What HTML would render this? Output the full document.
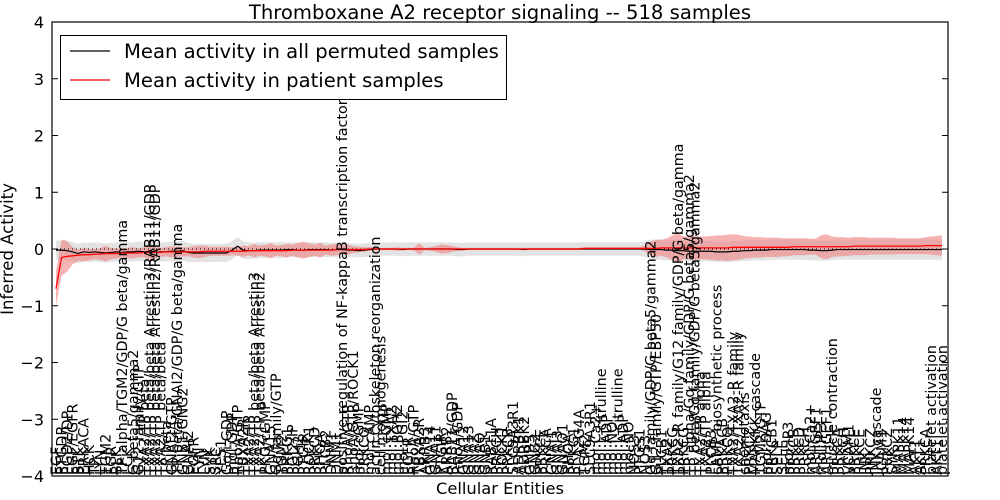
<!DOCTYPE html>
<html><head><meta charset="utf-8"><style>
html,body{margin:0;padding:0;background:#fff;}
svg{display:block;font-family:"DejaVu Sans","Liberation Sans",sans-serif;}
</style></head><body>
<svg id="chart" width="1000" height="500" viewBox="0 0 1000 500" xmlns="http://www.w3.org/2000/svg">
<rect x="0" y="0" width="1000" height="500" fill="#fff"/>
<text x="500" y="19" text-anchor="middle" font-size="19.6">Thromboxane A2 receptor signaling -- 518 samples</text>
<text transform="translate(13,249) rotate(-90)" text-anchor="middle" font-size="16.5">Inferred Activity</text>
<text x="500" y="494" text-anchor="middle" font-size="16.3">Cellular Entities</text>
<g id="plot"></g>
</svg>
<script>
const categories=["EGF","PTGDR","PGD2/DP","EGF/EGFR","BTK","PRKACA","HCK","TP","LYN","TGM2",
"FGR","BLK","TP alpha/TGM2/GDP/G beta/gamma","LCK","G beta5/gamma2","G12 family/GTP","TXA2/TP beta","TXA2/TP beta/beta Arrestin3/RAB11/GDP","TXA2/TP beta/beta Arrestin2/RAB11/GDP","TXA2/TP beta/beta",
"TP beta","GNAI2/GTP","TP beta/GNAI2/GDP/G beta/gamma","GNB1/GNG2","GNAI2","EGFR","FYN","LYN","SYK","SRC",
"YES1","Gq/i:GDP","mol:GDP","RhoA/GTP","TBXA2R","TXA2/TP","TXA2/TP beta/beta Arrestin3","TXA2/TP beta/beta Arrestin2","PKG/cGMP","GNA15",
"Gq family/GTP","TGM2","PRKG1","PGI2/IP","PGH2","PTGIR","ROCK1","PRKCD","RHOA","PLCB2",
"DNM1","DNM1","positive regulation of NF-kappaB transcription factor activity","RhoA/GTP","RhoA/GTP/ROCK1","mol:cGMP","PRKCQ","mol:cAMP","actin cytoskeleton reorganization","cell morphogenesis",
"mol:cGMP","mol:TXA2","mol:PGH2","mol:PGI2","EGFR","RhoA/GTP","TBXA2R","ARRB3","GNA14","GNA11",
"PTGIR","ARRB2","RAB11/GDP","RhoA/GDP","GNA12","GNA13","GNAZ","GNAQ","GNB1","RAB11A",
"PRKCH","ROCK1","PRKCB","SLC9A3R1","ADRBK1","ADRBK2","GNB5","GNG2","PRKCE","PRKCA",
"GNAI1","GNAI3","GNAO1","RHOA","PRKG1","PLA2G4A","TGM2","SLC9A3R1","mol:Ca2+","mol:L-citrulline",
"mol:ADP","mol:NO","mol:L-citrulline","mol:ADP","mol:NO","NOS3","PTGS1","NOS3","Gq family/GDP/G beta5/gamma2","G12 family/GTP/EBP50",
"PLCB1","TXA2","PRKCG","TXA2-R family/G12 family/GDP/G beta/gamma","PRKCG","TP alpha/Gq family/GDP/G beta5/gamma2","TP beta/Gq family/GDP/G beta5/gamma2","TXA2/TP alpha","TXA2/TP alpha","PLCB3",
"cAMP biosynthetic process","PRKACB","PRKCQ","TXA2/TXA2-R family","TXA2/TXA2-R family","chemotaxis","PRKCZ","MAPKKK cascade","TGM2/GTP","mol:DAG",
"PRKCB1","SELP","SELE","mol:IP3","PRKCB","PRKCD","PRKCH","mol:Ca2+","ARHGEF1","mol:IP3",
"ARHGEF1","muscle contraction","PRKCA","PRKCH","VCAM1","PRKCE","PRKCE","JNK","PRKCZ","JNK cascade",
"ICAM1","PRKCZ","SYK","MAPK11","MAPK14","MAPK14","AKT1","AKT1","PRKCA","platelet activation",
"AKT1","platelet activation"];
const yTicks=[4,3,2,1,0,-1,-2,-3,-4];
const yTickLabels=["4","3","2","1","0","\u22121","\u22122","\u22123","\u22124"];
const permMean=[-0.02,-0.02,-0.03,-0.05,-0.08,-0.05,-0.06,-0.05,-0.06,-0.07,
-0.06,-0.05,-0.06,-0.05,-0.05,-0.04,-0.05,-0.05,-0.06,-0.05,
-0.05,-0.04,-0.04,-0.03,-0.06,-0.07,-0.07,-0.07,-0.07,-0.07,
-0.07,-0.07,-0.02,0.05,-0.02,-0.03,-0.03,-0.02,-0.02,-0.02,
-0.02,-0.02,-0.01,-0.01,-0.02,-0.02,-0.01,-0.01,-0.01,-0.01,
-0.02,-0.01,-0.01,-0.02,-0.02,-0.03,-0.02,-0.01,0,0,
0,0,0,-0.01,0,0,0,0,0,0,
0,0,0,-0.01,-0.01,0,0,0,0,0,
0,0,0,0,0,-0.01,0,0,0,0,
0,0,0,0,0,0,0,0,0,0,
0,0,0,0,0,0,0,0,-0.01,-0.01,
-0.01,-0.02,-0.02,-0.03,-0.03,-0.04,-0.04,-0.04,-0.04,-0.04,
-0.05,-0.05,-0.05,-0.04,-0.04,-0.03,-0.03,-0.02,-0.02,-0.02,
-0.01,-0.01,-0.01,-0.01,-0.01,-0.01,-0.01,-0.02,-0.02,-0.03,
-0.03,-0.02,-0.01,-0.01,-0.01,-0.01,-0.01,-0.01,-0.01,-0.01,
-0.01,-0.01,-0.01,-0.01,-0.01,-0.01,-0.01,-0.01,-0.01,-0.01,
-0.01,-0.01];
const permSd=[0.17,0.17,0.17,0.17,0.17,0.17,0.17,0.17,0.17,0.17,
0.17,0.17,0.17,0.17,0.17,0.17,0.17,0.17,0.17,0.17,
0.17,0.17,0.17,0.17,0.17,0.16,0.16,0.16,0.16,0.16,
0.16,0.16,0.16,0.16,0.15,0.15,0.14,0.14,0.14,0.14,
0.14,0.14,0.13,0.13,0.13,0.13,0.13,0.13,0.13,0.13,
0.13,0.13,0.13,0.12,0.12,0.12,0.12,0.12,0.12,0.12,
0.12,0.12,0.12,0.12,0.12,0.12,0.12,0.12,0.12,0.12,
0.12,0.12,0.12,0.12,0.12,0.12,0.12,0.12,0.12,0.12,
0.12,0.12,0.12,0.12,0.12,0.12,0.12,0.12,0.12,0.12,
0.12,0.12,0.12,0.12,0.12,0.12,0.12,0.12,0.12,0.12,
0.12,0.12,0.12,0.12,0.12,0.12,0.12,0.14,0.17,0.18,
0.18,0.18,0.18,0.18,0.18,0.18,0.18,0.18,0.18,0.18,
0.18,0.18,0.18,0.18,0.18,0.18,0.18,0.18,0.18,0.18,
0.18,0.18,0.18,0.18,0.18,0.18,0.18,0.18,0.18,0.18,
0.18,0.18,0.18,0.18,0.18,0.18,0.18,0.18,0.18,0.18,
0.18,0.18,0.18,0.18,0.18,0.18,0.18,0.18,0.18,0.18,
0.18,0.18];
const patMean=[-0.7,-0.15,-0.13,-0.12,-0.11,-0.1,-0.1,-0.09,-0.09,-0.08,
-0.08,-0.08,-0.07,-0.07,-0.07,-0.07,-0.06,-0.06,-0.06,-0.06,
-0.05,-0.05,-0.05,-0.05,-0.05,-0.05,-0.05,-0.04,-0.04,-0.04,
-0.04,-0.04,-0.04,-0.04,-0.04,-0.03,-0.03,-0.03,-0.03,-0.03,
-0.03,-0.03,-0.03,-0.02,-0.02,-0.02,-0.02,-0.02,-0.02,-0.02,
-0.02,-0.01,-0.01,-0.01,-0.01,-0.01,-0.01,0,0,0,
0,0,0,0,0,0,0,0,0,0,
0,0,0,0,0,0,0,0,0,0,
0,0,0,0,0,0,0,0,0,0,
0,0,0,0,0,0,0.01,0.01,0.01,0.01,
0.01,0.01,0.01,0.01,0.01,0.01,0.01,0.01,0.01,0.01,
0.02,0.02,0.02,0.02,0.02,0.02,0.02,0.02,0.02,0.02,
0.02,0.02,0.02,0.03,0.03,0.03,0.03,0.03,0.03,0.03,
0.03,0.03,0.03,0.03,0.04,0.04,0.04,0.04,0.04,0.04,
0.04,0.04,0.04,0.04,0.04,0.05,0.05,0.05,0.05,0.05,
0.05,0.05,0.05,0.05,0.05,0.05,0.05,0.05,0.06,0.06,
0.06,0.06];
const patSd=[0.3,0.32,0.27,0.15,0.1,0.12,0.1,0.09,0.1,0.14,
0.1,0.09,0.08,0.09,0.1,0.08,0.09,0.13,0.1,0.08,
0.08,0.1,0.09,0.08,0.08,0.1,0.11,0.1,0.08,0.08,
0.08,0.08,0.07,0.08,0.1,0.08,0.12,0.09,0.1,0.13,
0.09,0.1,0.12,0.1,0.13,0.15,0.12,0.1,0.13,0.08,
0.1,0.1,0.08,0.09,0.06,0.05,0.04,0.03,0.03,0.02,
0.02,0.02,0.03,0.02,0.02,0.02,0.1,0.02,0.03,0.05,
0.08,0.07,0.05,0.03,0.02,0.02,0.02,0.02,0.02,0.02,
0.02,0.02,0.02,0.02,0.02,0.02,0.02,0.02,0.02,0.02,
0.02,0.02,0.02,0.02,0.02,0.02,0.02,0.02,0.02,0.02,
0.02,0.02,0.02,0.02,0.02,0.02,0.02,0.05,0.12,0.15,
0.14,0.17,0.22,0.26,0.2,0.2,0.21,0.2,0.2,0.21,
0.22,0.22,0.23,0.23,0.22,0.2,0.19,0.18,0.18,0.17,
0.17,0.17,0.16,0.16,0.15,0.15,0.15,0.14,0.14,0.2,
0.22,0.18,0.17,0.17,0.16,0.16,0.16,0.16,0.15,0.15,
0.15,0.15,0.15,0.14,0.14,0.14,0.14,0.14,0.15,0.16,
0.17,0.18];
const legendLabels=["Mean activity in all permuted samples","Mean activity in patient samples"];

const NS="http://www.w3.org/2000/svg";
const L=52,R=948,T=22,B=476,VMIN=-4,VMAX=4;
const n=categories.length;
function xScale(i){return 56+i*(886/(n-1));}
function yScale(v){return B-(v-VMIN)/(VMAX-VMIN)*(B-T);}
const g=document.getElementById('plot');
function mk(tag,attrs,parent){const e=document.createElementNS(NS,tag);for(const k in attrs)e.setAttribute(k,attrs[k]);(parent||g).appendChild(e);return e;}
function band(mean,sd){let up=[],dn=[];for(let i=0;i<n;i++){up.push(xScale(i).toFixed(2)+','+yScale(mean[i]+sd[i]).toFixed(2));dn.unshift(xScale(i).toFixed(2)+','+yScale(mean[i]-sd[i]).toFixed(2));}return up.concat(dn).join(' ');}
function line(mean){let p=[];for(let i=0;i<n;i++)p.push(xScale(i).toFixed(2)+','+yScale(mean[i]).toFixed(2));return p.join(' ');}

const pb=mk('polygon',{points:band(permMean,permSd),fill:'#d9d9d9','fill-opacity':'0.75',stroke:'none'});


const rb=mk('polygon',{points:band(patMean,patSd),fill:'#f08080','fill-opacity':'0.6',stroke:'none'});


const zl=mk('line',{x1:L,x2:R,y1:yScale(0),y2:yScale(0),stroke:'#000','stroke-width':1,'stroke-dasharray':'1,3'});


const bl=mk('polyline',{points:line(permMean),fill:'none',stroke:'#000','stroke-width':1.2});


const rl=mk('polyline',{points:line(patMean),fill:'none',stroke:'#ff0000','stroke-width':1.3});



for(let i=0;i<n;i++){
  const t=mk('text',{transform:'translate('+(xScale(i)+5).toFixed(2)+','+(B-1)+') rotate(-90)','font-size':'14.3','text-anchor':'start'});
  t.textContent=categories[i];
  
  
}
for(let k=0;k<yTicks.length;k++){
  const y=yScale(yTicks[k]);
  const t=mk('text',{x:44,y:y+6,'font-size':'16','text-anchor':'end'});
  t.textContent=yTickLabels[k];
  
  
  const a=mk('line',{x1:L,x2:L+6,y1:y,y2:y,stroke:'#000','stroke-width':1});
  
  
  const b=mk('line',{x1:R-6,x2:R,y1:y,y2:y,stroke:'#000','stroke-width':1});
  
  
}
const fr=mk('rect',{x:L,y:T,width:R-L,height:B-T,fill:'none',stroke:'#000','stroke-width':1.2});



const lg=mk('g',{});


mk('rect',{x:60.5,y:35.5,width:446,height:64,fill:'#fff',stroke:'#000','stroke-width':1},lg);
const colors=['#000','#ff0000'];
for(let k=0;k<2;k++){
  const y=51+k*29;
  const e=mk('g',{},lg);
  
  
  mk('line',{x1:70,x2:110,y1:y,y2:y,stroke:colors[k],'stroke-width':1.3},e);
  const t=mk('text',{x:124,y:y+7,'font-size':'19.6'},e);
  t.textContent=legendLabels[k];
}
</script>
</body></html>
